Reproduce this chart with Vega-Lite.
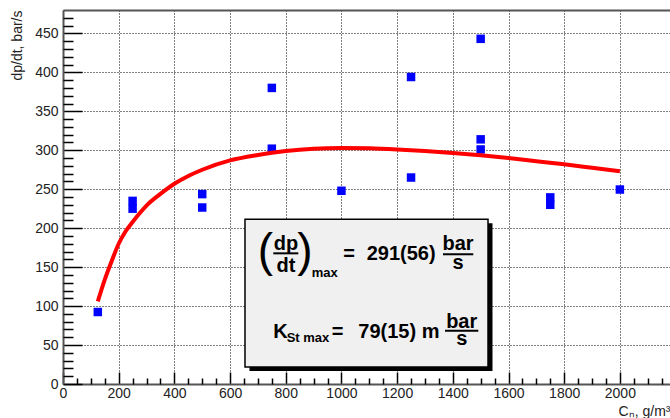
{
  "$schema": "https://vega.github.io/schema/vega-lite/v6.json",
  "width": 607,
  "height": 374,
  "autosize": {"type": "none"},
  "padding": {"left": 63, "top": 10, "right": 0, "bottom": 34},
  "background": "white",
  "config": {"view": {"stroke": null}, "font": "Liberation Sans"},
  "datasets": {
    "points": [
      {"c": 125, "dpdt": 92.4},
      {"c": 250, "dpdt": 235},
      {"c": 250, "dpdt": 225},
      {"c": 500, "dpdt": 243.7},
      {"c": 500, "dpdt": 226.5},
      {"c": 750, "dpdt": 380},
      {"c": 750, "dpdt": 302},
      {"c": 1000, "dpdt": 248},
      {"c": 1250, "dpdt": 394},
      {"c": 1250, "dpdt": 265},
      {"c": 1500, "dpdt": 443},
      {"c": 1500, "dpdt": 314},
      {"c": 1500, "dpdt": 301},
      {"c": 1750, "dpdt": 239.5},
      {"c": 1750, "dpdt": 230},
      {"c": 2000, "dpdt": 249.6}
    ],
    "fit": [
      {"c": 125, "dpdt": 106}, {"c": 150, "dpdt": 134}, {"c": 175, "dpdt": 158},
      {"c": 200, "dpdt": 180}, {"c": 225, "dpdt": 196}, {"c": 250, "dpdt": 208},
      {"c": 300, "dpdt": 229}, {"c": 350, "dpdt": 244}, {"c": 400, "dpdt": 257},
      {"c": 450, "dpdt": 267}, {"c": 500, "dpdt": 275}, {"c": 600, "dpdt": 287},
      {"c": 700, "dpdt": 294}, {"c": 800, "dpdt": 299}, {"c": 900, "dpdt": 302},
      {"c": 1000, "dpdt": 303}, {"c": 1100, "dpdt": 302.5}, {"c": 1200, "dpdt": 301},
      {"c": 1300, "dpdt": 299}, {"c": 1400, "dpdt": 296.5}, {"c": 1500, "dpdt": 293.5},
      {"c": 1600, "dpdt": 290}, {"c": 1700, "dpdt": 286}, {"c": 1800, "dpdt": 282},
      {"c": 1900, "dpdt": 277.5}, {"c": 2000, "dpdt": 273}
    ],
    "shadow": [{"x1": 669.7, "x2": 1542.5, "y1": 16.7, "y2": 206.3}],
    "box": [{"x1": 653.6, "x2": 1526.4, "y1": 21.8, "y2": 211.4}],
    "parens": [
      {"cx": 727.3, "cy": 151, "label": "("},
      {"cx": 869.1, "cy": 151, "label": ")"}
    ],
    "centered": [
      {"cx": 800.9, "cy": 172, "label": "dp"},
      {"cx": 800.9, "cy": 144.3, "label": "dt"},
      {"cx": 1418.6, "cy": 172, "label": "bar"},
      {"cx": 1418.6, "cy": 147.2, "label": "s"},
      {"cx": 1431.9, "cy": 71.9, "label": "bar"},
      {"cx": 1431.9, "cy": 49.7, "label": "s"}
    ],
    "lefttext": [
      {"cx": 1006.7, "cy": 159.1, "label": "="},
      {"cx": 1090.7, "cy": 159.1, "label": "291(56)"},
      {"cx": 755.3, "cy": 58.5, "label": "K"},
      {"cx": 965, "cy": 58.5, "label": "="},
      {"cx": 1060.6, "cy": 58.5, "label": "79(15) m"}
    ],
    "subs": [
      {"cx": 893.2, "cy": 137.3, "label": "max"},
      {"cx": 803.4, "cy": 53.9, "label": "St max"}
    ],
    "fracs": [
      {"x1": 755.3, "x2": 845.1, "yy": 167.7},
      {"x1": 1364.7, "x2": 1473.5, "yy": 166.5},
      {"x1": 1372, "x2": 1491.5, "yy": 68.4}
    ]
  },
  "layer": [
    {
      "data": {"name": "points"},
      "mark": {"type": "square", "size": 72, "color": "#0000ff", "opacity": 1},
      "encoding": {
        "x": {"field": "c", "type": "quantitative",
          "scale": {"domain": [0, 2180], "nice": false, "zero": false},
          "axis": {"orient": "bottom", "values": [0,200,400,600,800,1000,1200,1400,1600,1800,2000], "format": "d",
            "grid": true, "gridColor": "#000", "gridDash": [1, 2], "gridWidth": 1, "gridOpacity": 1,
            "domainColor": "#555", "domainWidth": 2,
            "tickColor": "#000", "tickWidth": 1.5, "tickSize": -12,
            "labelFont": "Liberation Sans", "labelFontSize": 14, "labelColor": "#222",
            "labelFlush": false, "labelOverlap": false, "labelPadding": 14,
            "title": "Cₙ, g/m³", "titleFont": "Liberation Sans", "titleFontSize": 14,
            "titleFontWeight": "normal", "titleColor": "#222", "titleAnchor": "end", "titleAlign": "right", "titleX": 607, "titlePadding": 4}},
        "y": {"field": "dpdt", "type": "quantitative",
          "scale": {"domain": [0, 480], "nice": false, "zero": false},
          "axis": {"orient": "left", "values": [0,50,100,150,200,250,300,350,400,450], "format": "d",
            "grid": true, "gridColor": "#000", "gridDash": [1, 2], "gridWidth": 1, "gridOpacity": 1,
            "domainColor": "#555", "domainWidth": 2,
            "tickColor": "#000", "tickWidth": 1.5, "tickSize": -19,
            "labelFont": "Liberation Sans", "labelFontSize": 14, "labelColor": "#222",
            "labelOverlap": false, "labelPadding": 24,
            "title": "dp/dt, bar/s", "titleFont": "Liberation Sans", "titleFontSize": 14,
            "titleFontWeight": "normal", "titleColor": "#222", "titleAnchor": "end", "titlePadding": 10}}
      }
    },
    {
      "data": {"name": "fit"},
      "mark": {"type": "line", "color": "#ff0000", "strokeWidth": 4, "interpolate": "monotone"},
      "encoding": {
        "x": {"field": "c", "type": "quantitative",
          "scale": {"domain": [0, 2180], "nice": false, "zero": false},
          "axis": {"orient": "bottom", "values": [50,100,150,250,300,350,450,500,550,650,700,750,850,900,950,1050,1100,1150,1250,1300,1350,1450,1500,1550,1650,1700,1750,1850,1900,1950,2050,2100,2150],
            "grid": false, "domain": false, "labels": false, "title": null,
            "tickColor": "#000", "tickWidth": 1.5, "tickSize": -6}},
        "y": {"field": "dpdt", "type": "quantitative",
          "scale": {"domain": [0, 480], "nice": false, "zero": false},
          "axis": {"orient": "left", "values": [10,20,30,40,60,70,80,90,110,120,130,140,160,170,180,190,210,220,230,240,260,270,280,290,310,320,330,340,360,370,380,390,410,420,430,440,460,470],
            "grid": false, "domain": false, "labels": false, "title": null,
            "tickColor": "#000", "tickWidth": 1.5, "tickSize": -10}}
      }
    },
    {
      "data": {"name": "shadow"},
      "mark": {"type": "rect", "color": "#000", "opacity": 1},
      "encoding": {
        "x": {"field": "x1", "type": "quantitative", "scale": {"domain": [0, 2180], "nice": false, "zero": false},
          "axis": {"orient": "top", "ticks": false, "labels": false, "grid": false, "title": null, "domainColor": "#555", "domainWidth": 2}},
        "x2": {"field": "x2"},
        "y": {"field": "y1", "type": "quantitative", "scale": {"domain": [0, 480], "nice": false, "zero": false}, "axis": null},
        "y2": {"field": "y2"}
      }
    },
    {
      "data": {"name": "box"},
      "mark": {"type": "rect", "fill": "#f0f0f0", "stroke": "#000", "strokeWidth": 1.5, "opacity": 1},
      "encoding": {
        "x": {"field": "x1", "type": "quantitative", "scale": {"domain": [0, 2180], "nice": false, "zero": false}, "axis": null},
        "x2": {"field": "x2"},
        "y": {"field": "y1", "type": "quantitative", "scale": {"domain": [0, 480], "nice": false, "zero": false}, "axis": null},
        "y2": {"field": "y2"}
      }
    },
    {
      "data": {"name": "parens"},
      "mark": {"type": "text", "font": "Liberation Sans", "fontSize": 46, "fontWeight": "normal", "align": "center", "baseline": "alphabetic", "color": "#000"},
      "encoding": {
        "x": {"field": "cx", "type": "quantitative", "scale": {"domain": [0, 2180], "nice": false, "zero": false}, "axis": null},
        "y": {"field": "cy", "type": "quantitative", "scale": {"domain": [0, 480], "nice": false, "zero": false}, "axis": null},
        "text": {"field": "label"}
      }
    },
    {
      "data": {"name": "centered"},
      "mark": {"type": "text", "font": "Liberation Sans", "fontSize": 20, "fontWeight": "bold", "align": "center", "baseline": "alphabetic", "color": "#000"},
      "encoding": {
        "x": {"field": "cx", "type": "quantitative", "scale": {"domain": [0, 2180], "nice": false, "zero": false}, "axis": null},
        "y": {"field": "cy", "type": "quantitative", "scale": {"domain": [0, 480], "nice": false, "zero": false}, "axis": null},
        "text": {"field": "label"}
      }
    },
    {
      "data": {"name": "lefttext"},
      "mark": {"type": "text", "font": "Liberation Sans", "fontSize": 20, "fontWeight": "bold", "align": "left", "baseline": "alphabetic", "color": "#000"},
      "encoding": {
        "x": {"field": "cx", "type": "quantitative", "scale": {"domain": [0, 2180], "nice": false, "zero": false}, "axis": null},
        "y": {"field": "cy", "type": "quantitative", "scale": {"domain": [0, 480], "nice": false, "zero": false}, "axis": null},
        "text": {"field": "label"}
      }
    },
    {
      "data": {"name": "subs"},
      "mark": {"type": "text", "font": "Liberation Sans", "fontSize": 13, "fontWeight": "bold", "align": "left", "baseline": "alphabetic", "color": "#000"},
      "encoding": {
        "x": {"field": "cx", "type": "quantitative", "scale": {"domain": [0, 2180], "nice": false, "zero": false}, "axis": null},
        "y": {"field": "cy", "type": "quantitative", "scale": {"domain": [0, 480], "nice": false, "zero": false}, "axis": null},
        "text": {"field": "label"}
      }
    },
    {
      "data": {"name": "fracs"},
      "mark": {"type": "rule", "color": "#000", "strokeWidth": 2},
      "encoding": {
        "x": {"field": "x1", "type": "quantitative", "scale": {"domain": [0, 2180], "nice": false, "zero": false}, "axis": null},
        "x2": {"field": "x2"},
        "y": {"field": "yy", "type": "quantitative", "scale": {"domain": [0, 480], "nice": false, "zero": false}, "axis": null}
      }
    }
  ],
  "resolve": {"axis": {"x": "independent", "y": "independent"}}
}
